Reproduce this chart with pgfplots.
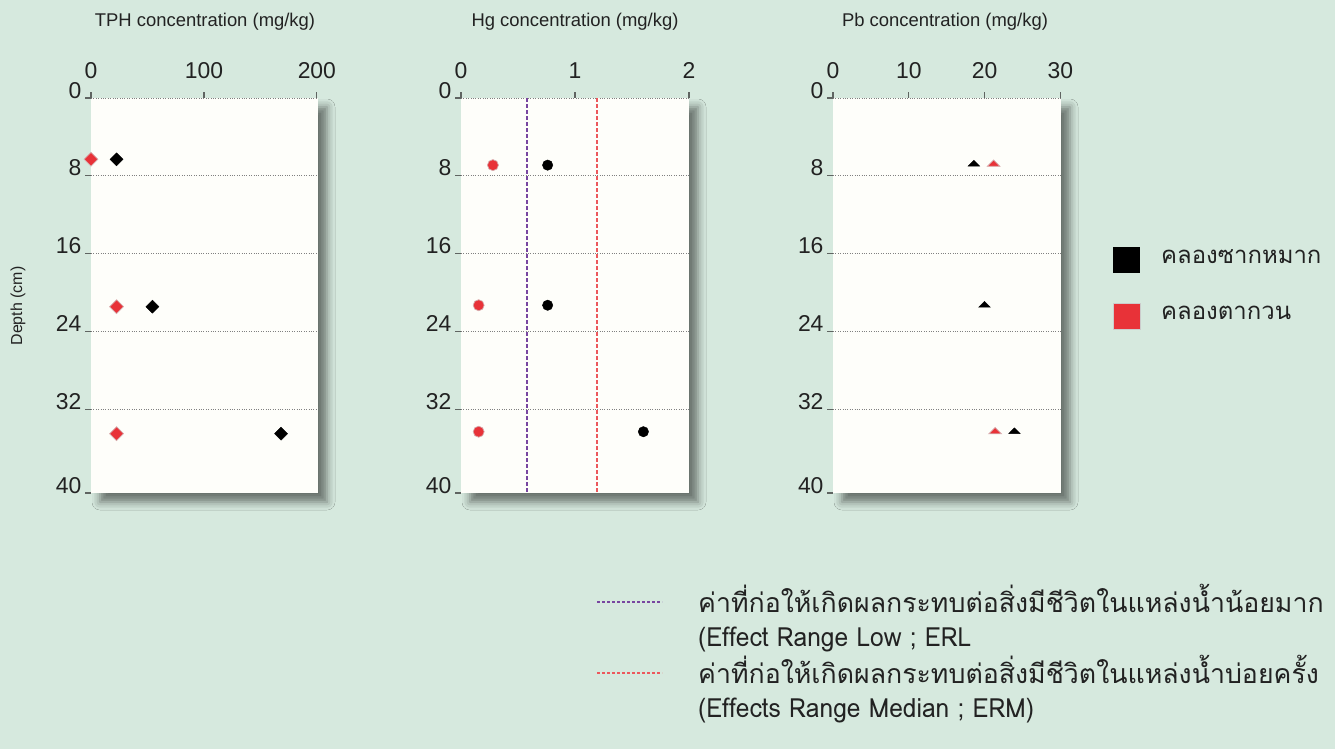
\documentclass[border=0pt]{standalone}
\usepackage{pgfplots}
\pgfplotsset{compat=1.18}
\usepackage{fontspec}
\setmainfont{Liberation Sans}
\newfontfamily\thaifont[Script=Thai]{Loma}
\newfontfamily\thainarrow[Script=Thai, FakeStretch=0.93]{Loma}
\usetikzlibrary{shadows.blur}

\definecolor{bgmint}{RGB}{214,233,222}
\definecolor{paper}{RGB}{254,254,250}
\definecolor{sakred}{RGB}{232,50,56}
\definecolor{sakhalo}{RGB}{214,170,172}
\definecolor{erlpurple}{RGB}{120,70,160}
\definecolor{ermred}{RGB}{236,88,92}
\definecolor{tickgray}{RGB}{95,100,97}
\definecolor{inkgray}{RGB}{34,34,34}

\tikzset{redmark/.style={fill=sakred, draw=sakhalo, line width=0.7bp}}

\pgfplotsset{
  depthpanel/.style={
    scale only axis, height=395bp,
    /pgf/number format/assume math mode=true,
    y dir=reverse, ymin=0, ymax=40.6,
    ytick={0,8,16,24,32},
    extra y ticks={40.6}, extra y tick labels={40},
    extra y tick style={grid=none},
    ymajorgrids, grid style={dotted, color=gray, line width=0.9pt},
    axis x line*=top, axis y line*=left,
    axis line style={draw=none},
    tick align=outside, major tick length=6bp,
    tick style={color=tickgray, line width=1.2pt},
    xticklabel style={font=\fontsize{23}{26}\selectfont, text=inkgray, yshift=10bp},
    yticklabel style={font=\fontsize{23}{26}\selectfont, text=inkgray, anchor=base east},
    axis background/.style={fill=paper,
      blur shadow={shadow xshift=9bp, shadow yshift=-9bp,
                   shadow blur radius=8bp, shadow opacity=50}},
    clip=false,
  },
  sakmak/.style={only marks, color=black},
  takuan/.style={only marks, color=sakred},
}

\begin{document}
\begin{tikzpicture}
\path[use as bounding box, fill=bgmint] (0,0) rectangle (1335bp,-749bp);

% TPH
\begin{axis}[depthpanel, width=227bp, at={(204.5bp,-295.5bp)}, anchor=center,
  xmin=0, xmax=201, xtick={0,100,200}]
  \addplot[sakmak, mark=square*, mark size=4.6bp, mark options={rotate=45}]
    coordinates {(22.6,6.3) (54.4,21.45) (168.3,34.5)};
  \addplot[takuan, mark=square*, mark size=4.9bp, mark options={redmark, rotate=45}]
    coordinates {(0,6.3) (22.6,21.45) (22.6,34.5)};
\end{axis}

% Hg with sediment guideline values
\begin{axis}[depthpanel, width=228bp, at={(575bp,-295.5bp)}, anchor=center,
  xmin=0, xmax=2, xtick={0,1,2}]
  \addplot[erlpurple, line width=1.5bp, dash pattern=on 4bp off 2bp]
    coordinates {(0.58,0) (0.58,40.6)};
  \addplot[ermred, line width=1.7bp, dash pattern=on 4bp off 2bp]
    coordinates {(1.19,0) (1.19,40.6)};
  \addplot[sakmak, mark=*, mark size=5.2bp]
    coordinates {(0.76,6.9) (0.76,21.3) (1.60,34.3)};
  \addplot[takuan, mark=*, mark size=5.5bp, mark options={redmark}]
    coordinates {(0.28,6.9) (0.155,21.3) (0.155,34.3)};
\end{axis}

% Pb
\begin{axis}[depthpanel, width=228bp, at={(947bp,-295.5bp)}, anchor=center,
  xmin=0, xmax=30.1, xtick={0,10,20,30}]
  \addplot[sakmak, mark=triangle*, mark size=6.7bp, mark options={yscale=0.58}]
    coordinates {(18.6,6.8) (20.0,21.3) (23.95,34.3)};
  \addplot[takuan, mark=triangle*, mark size=7.3bp, mark options={redmark, yscale=0.58}]
    coordinates {(21.2,6.8) (21.4,34.3)};
\end{axis}

% panel titles and depth label
\begin{scope}[every node/.style={text=inkgray, font=\fontsize{18.5}{20}\selectfont}]
\node[anchor=base] at (205bp,-26bp) {TPH concentration (mg/kg)};
\node[anchor=base] at (575bp,-26bp) {Hg concentration (mg/kg)};
\node[anchor=base] at (945bp,-26bp) {Pb concentration (mg/kg)};
\node[rotate=90, font=\fontsize{16}{18}\selectfont] at (18bp,-306bp) {Depth (cm)};
\end{scope}

% site legend
\fill[black] (1113bp,-247bp) rectangle (1140bp,-273bp);
\filldraw[fill=sakred, draw=black!20, line width=0.8pt] (1113bp,-303bp) rectangle (1140bp,-329bp);
\node[anchor=base west, inner sep=0, text=inkgray, font=\thaifont\fontsize{24}{28}\selectfont]
  at (1161bp,-263bp) {คลองซากหมาก};
\node[anchor=base west, inner sep=0, text=inkgray, font=\thaifont\fontsize{24}{28}\selectfont]
  at (1161bp,-319bp) {คลองตากวน};

% guideline legend
\draw[erlpurple, line width=1.3bp, dash pattern=on 3bp off 2bp] (597bp,-602bp) -- (662bp,-602bp);
\draw[ermred, line width=1.3bp, dash pattern=on 3bp off 2bp] (597bp,-673bp) -- (662bp,-673bp);
\begin{scope}[every node/.style={anchor=base west, inner sep=0, text=inkgray,
    font=\thaifont\fontsize{26.8}{30}\selectfont}]
\node at (698bp,-612bp) {ค่าที่ก่อให้เกิดผลกระทบต่อสิ่งมีชีวิตในแหล่งน้ำน้อยมาก};
\node[font=\thainarrow\fontsize{26.5}{30}\selectfont] at (698bp,-646bp) {(Effect Range Low ; ERL};
\node at (698bp,-683bp) {ค่าที่ก่อให้เกิดผลกระทบต่อสิ่งมีชีวิตในแหล่งน้ำบ่อยครั้ง};
\node[font=\thainarrow\fontsize{26.5}{30}\selectfont] at (698bp,-717bp) {(Effects Range Median ; ERM)};
\end{scope}
\end{tikzpicture}
\end{document}
